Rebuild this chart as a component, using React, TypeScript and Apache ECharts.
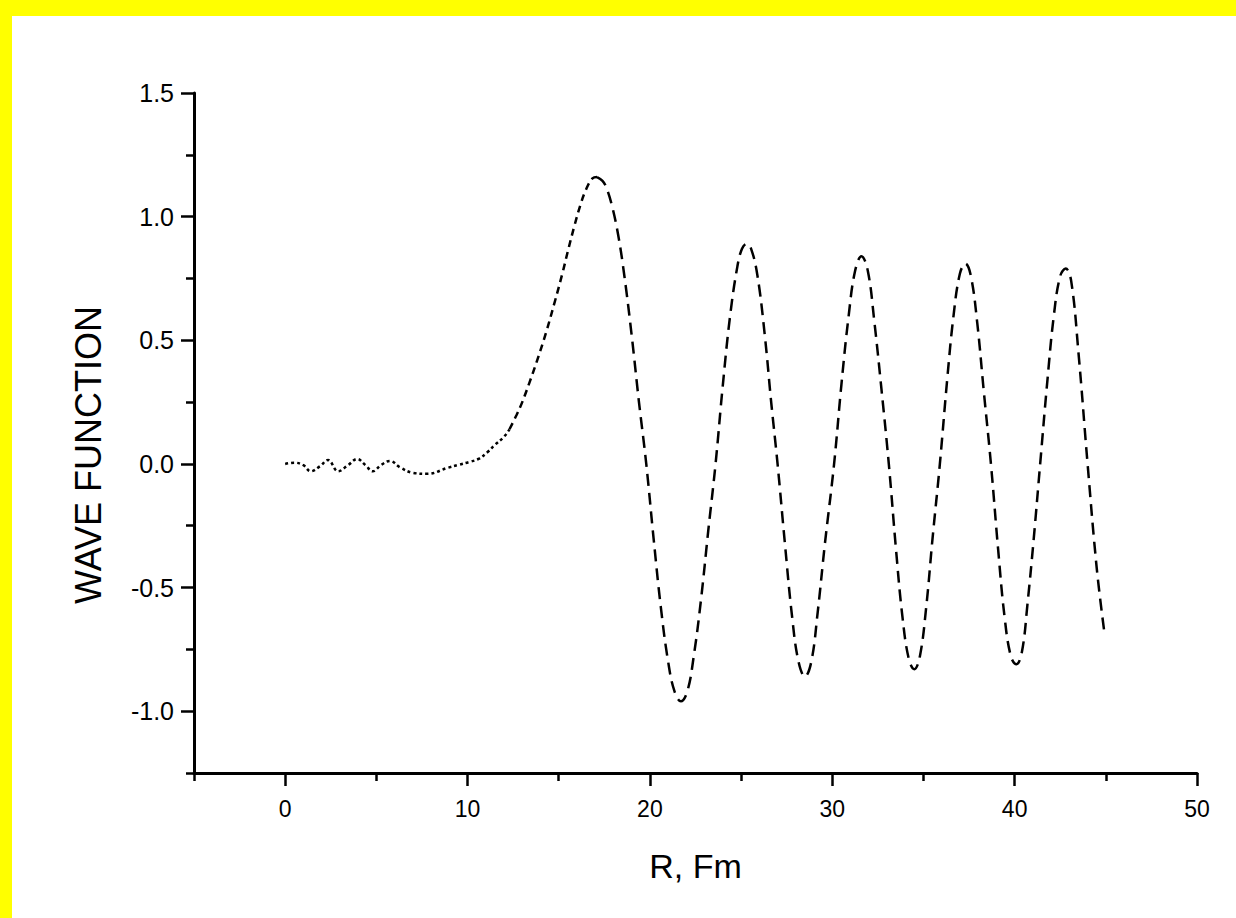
import React, { useEffect, useRef } from "react";
import * as echarts from "echarts";

// Radius (Fm) and wave function values
const R = [
  0.0, 0.5, 1.0, 1.4, 1.9, 2.35, 2.9, 3.45, 3.95, 4.4, 4.8, 5.25, 5.75, 6.3, 7.0, 7.8, 8.9, 9.5,
  10.1, 10.6, 11.1, 11.5, 12.0, 12.3, 12.7, 13.0, 13.4, 13.8, 14.3, 14.8, 15.2, 15.5, 15.85, 16.2,
  16.5, 16.85, 17.1, 17.4, 17.6, 17.9, 18.25, 18.6, 19.0, 19.4, 19.8, 20.2, 20.6, 21.0, 21.35, 21.7,
  22.05, 22.4, 22.8, 23.2, 23.6, 24.0, 24.4, 24.8, 25.05, 25.3, 25.55, 25.9, 26.3, 26.65, 27.0,
  27.4, 27.8, 28.15, 28.5, 28.85, 29.2, 29.6, 30.1, 30.5, 30.9, 31.25, 31.6, 31.95, 32.3, 32.7,
  33.1, 33.5, 33.85, 34.2, 34.5, 34.8, 35.15, 35.5, 35.9, 36.3, 36.65, 37.0, 37.3, 37.6, 37.95,
  38.3, 38.7, 39.1, 39.45, 39.8, 40.1, 40.4, 40.7, 41.05, 41.4, 41.8, 42.15, 42.5, 42.8, 43.1,
  43.5, 44.0, 44.5, 44.9,
];
const PSI = [
  0.0, 0.005, -0.005, -0.03, -0.01, 0.016, -0.03, -0.005, 0.02, -0.005, -0.03, -0.005, 0.012,
  -0.014, -0.036, -0.04, -0.016, -0.004, 0.008, 0.02, 0.048, 0.077, 0.11, 0.14, 0.2, 0.25, 0.33,
  0.415, 0.53, 0.66, 0.77, 0.86, 0.96, 1.05, 1.11, 1.155, 1.16, 1.145, 1.12, 1.05, 0.93, 0.76,
  0.52, 0.25, 0.0, -0.3, -0.58, -0.8, -0.92, -0.96, -0.92, -0.78, -0.55, -0.27, 0.0, 0.32, 0.6,
  0.8, 0.87, 0.89, 0.87, 0.76, 0.52, 0.25, 0.0, -0.32, -0.62, -0.8, -0.86, -0.8, -0.6, -0.32, 0.0,
  0.32, 0.6, 0.78, 0.84, 0.78, 0.58, 0.3, 0.0, -0.35, -0.62, -0.79, -0.83, -0.78, -0.58, -0.3, 0.0,
  0.34, 0.6, 0.77, 0.81, 0.76, 0.57, 0.3, 0.0, -0.35, -0.62, -0.78, -0.81, -0.76, -0.57, -0.3, 0.0,
  0.34, 0.6, 0.76, 0.79, 0.74, 0.45, 0.0, -0.42, -0.67,
];

const X_MAJOR = [0, 10, 20, 30, 40, 50];
const X_MINOR = [-5, 5, 15, 25, 35, 45];
const Y_MAJOR = [-1.0, -0.5, 0.0, 0.5, 1.0, 1.5];
const Y_MINOR = [-1.25, -0.75, -0.25, 0.25, 0.75, 1.25];
const X_TITLE = "R, Fm";
const Y_TITLE = "WAVE FUNCTION";

const FONT = "Liberation Sans, Arial, sans-serif";

export default function App() {
  const ref = useRef<HTMLDivElement>(null);

  useEffect(() => {
    if (!ref.current) return;
    const chart = echarts.init(ref.current, undefined, { renderer: "svg" });
    const pts = R.map((r, i) => [r, PSI[i]]);
    const cut1 = R.indexOf(12.3);
    const cut2 = R.indexOf(17.1);
    const segs = [
      { data: pts.slice(0, cut1 + 1), dash: [3, 3] },
      { data: pts.slice(cut1, cut2 + 1), dash: [7, 5] },
      { data: pts.slice(cut2), dash: [12, 7] },
    ];
    const black = "#000";
    chart.setOption({
      animation: false,
      backgroundColor: "#fff",
      grid: { left: 182, top: 77, right: 39, bottom: 145, containLabel: false },
      graphic: [
        {
          type: "text",
          x: 76,
          y: 439,
          rotation: Math.PI / 2,
          style: {
            text: Y_TITLE,
            fontSize: 36,
            fontFamily: FONT,
            fill: black,
            textAlign: "center",
            textVerticalAlign: "middle",
          },
        },
      ],
      xAxis: [
        {
          type: "value",
          min: -5,
          max: 50,
          name: X_TITLE,
          nameLocation: "middle",
          nameGap: 76,
          nameTextStyle: { fontSize: 34, color: black, fontFamily: FONT },
          axisLine: { show: true, onZero: false, lineStyle: { color: black, width: 3 } },
          axisTick: { show: true, customValues: X_MAJOR, length: 13, lineStyle: { color: black, width: 2.5 } },
          axisLabel: { customValues: X_MAJOR, fontSize: 23, color: black, fontFamily: FONT, margin: 24 },
          splitLine: { show: false },
        },
        {
          type: "value",
          position: "bottom",
          min: -5,
          max: 50,
          axisLine: { show: false, onZero: false },
          axisTick: { show: true, customValues: X_MINOR, length: 8, lineStyle: { color: black, width: 2.5 } },
          axisLabel: { show: false },
          splitLine: { show: false },
        },
      ],
      yAxis: [
        {
          type: "value",
          min: -1.25,
          max: 1.5,
          axisLine: { show: true, onZero: false, lineStyle: { color: black, width: 3 } },
          axisTick: { show: true, customValues: Y_MAJOR, length: 13, lineStyle: { color: black, width: 2.5 } },
          axisLabel: {
            customValues: Y_MAJOR,
            fontSize: 25,
            color: black,
            fontFamily: FONT,
            margin: 20,
            formatter: (v: number) => v.toFixed(1),
          },
          splitLine: { show: false },
        },
        {
          type: "value",
          position: "left",
          min: -1.25,
          max: 1.5,
          axisLine: { show: false, onZero: false },
          axisTick: { show: true, customValues: Y_MINOR, length: 8, lineStyle: { color: black, width: 2.5 } },
          axisLabel: { show: false },
          splitLine: { show: false },
        },
      ],
      series: segs.map((s) => ({
        type: "line",
        data: s.data,
        xAxisIndex: 0,
        yAxisIndex: 0,
        smooth: 0.4,
        showSymbol: false,
        symbol: "none",
        lineStyle: { color: black, width: 2.5, type: s.dash },
      })),
    });
    return () => chart.dispose();
  }, []);

  return (
    <div style={{ position: "fixed", left: 0, top: 0, width: 1236, height: 918, background: "#ffff00" }}>
      <div
        ref={ref}
        style={{ position: "absolute", left: 12, top: 16, width: 1224, height: 902, background: "#fff" }}
      />
    </div>
  );
}
